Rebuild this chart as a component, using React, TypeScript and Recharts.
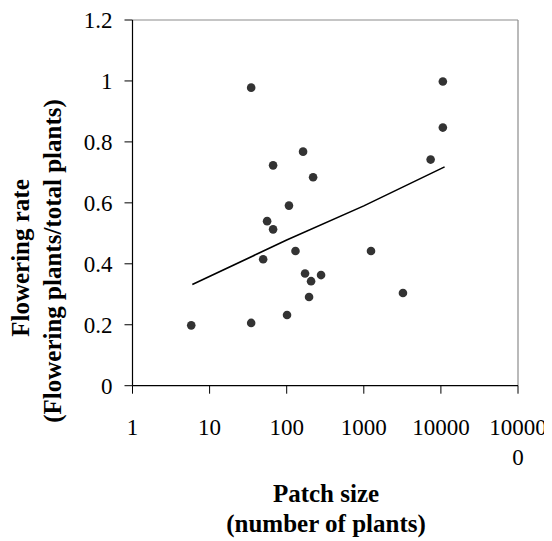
import React from "react";
import {
  ScatterChart,
  Scatter,
  XAxis,
  YAxis,
  ReferenceLine,
} from "recharts";

const patchSize = [
  34.6, 10600, 10600, 7360, 66.6, 163, 220, 107, 55.7, 66.6, 130, 49.5, 173,
  207, 279, 195, 101, 34.6, 5.78, 1240, 3220,
];
const floweringRate = [
  0.978, 0.998, 0.847, 0.742, 0.723, 0.768, 0.684, 0.591, 0.54, 0.513, 0.442,
  0.415, 0.368, 0.343, 0.363, 0.291, 0.232, 0.206, 0.198, 0.442, 0.304,
];

const trendX = [5.97, 100, 1000, 11170];
const trendY = [0.332, 0.478, 0.59, 0.718];

const xTicks = [1, 10, 100, 1000, 10000, 100000];
const yTicks = [0, 0.2, 0.4, 0.6, 0.8, 1, 1.2];

const points = patchSize.map((x, i) => ({ x, y: floweringRate[i] }));
const trend = trendX.map((x, i) => ({ x, y: trendY[i] }));

const FONT = "'Liberation Serif', 'Times New Roman', serif";
const TICK_SIZE = 23;
const TITLE_SIZE = 25;

const XTick = (props: any) => {
  const { x, y, payload } = props;
  const v = payload.value;
  const label = String(v);
  const lines = label.length > 5 ? [label.slice(0, 5), label.slice(5)] : [label];
  return (
    <g>
      {lines.map((l, i) => (
        <text
          key={i}
          x={x}
          y={y + 41 + i * 30}
          textAnchor="middle"
          fill="#000"
          fontFamily={FONT}
          fontSize={TICK_SIZE}
        >
          {l}
        </text>
      ))}
    </g>
  );
};

const XTitle = () => (
  <g>
    <text
      x={318}
      y={494}
      textAnchor="middle"
      fontFamily={FONT}
      fontWeight="bold"
      fontSize={TITLE_SIZE}
      fill="#000"
    >
      Patch size
    </text>
    <text
      x={318}
      y={524}
      textAnchor="middle"
      fontFamily={FONT}
      fontWeight="bold"
      fontSize={TITLE_SIZE}
      fill="#000"
    >
      (number of plants)
    </text>
  </g>
);

const YTitle = () => (
  <g>
    <text
      x={21}
      y={250}
      transform="rotate(-90, 21, 250)"
      textAnchor="middle"
      fontFamily={FONT}
      fontWeight="bold"
      fontSize={TITLE_SIZE}
      fill="#000"
    >
      Flowering rate
    </text>
    <text
      x={53}
      y={253}
      transform="rotate(-90, 53, 253)"
      textAnchor="middle"
      fontFamily={FONT}
      fontWeight="bold"
      fontSize={TITLE_SIZE}
      fill="#000"
    >
      (Flowering plants/total plants)
    </text>
  </g>
);

export default function App() {
  return (
    <div style={{ width: 544, height: 533 }}>
      <ScatterChart
        width={544}
        height={533}
        margin={{ top: 12, right: 34, bottom: 115, left: 0 }}
      >
        <XAxis
          type="number"
          dataKey="x"
          scale="log"
          domain={[1, 100000]}
          ticks={xTicks}
          interval={0}
          allowDataOverflow
          height={40.3}
          tickSize={8}
          tickMargin={0}
          stroke="#000"
          tickLine={{ stroke: "#000" }}
          axisLine={{ stroke: "#000", strokeWidth: 1.2 }}
          tick={<XTick />}
          label={{ content: () => <XTitle /> }}
        />
        <YAxis
          type="number"
          dataKey="y"
          domain={[0, 1.2]}
          ticks={yTicks}
          interval={0}
          width={124.5}
          tickSize={8}
          tickMargin={12}
          stroke="#000"
          axisLine={{ stroke: "#000", strokeWidth: 1.2 }}
          tickLine={{ stroke: "#000" }}
          tick={{ fill: "#000", fontFamily: FONT, fontSize: TICK_SIZE }}
          label={{ content: () => <YTitle /> }}
        />
        <ReferenceLine y={1.2} stroke="#8c8c8c" strokeWidth={1.2} />
        <ReferenceLine x={100000} stroke="#8c8c8c" strokeWidth={1.2} />
        <Scatter
          data={points}
          fill="#333333"
          isAnimationActive={false}
          shape={(p: any) => <circle cx={p.cx} cy={p.cy} r={4.3} fill="#333333" />}
        />
        <Scatter
          data={trend}
          isAnimationActive={false}
          line={{ stroke: "#000", strokeWidth: 1.6 }}
          shape={() => <g />}
        />
      </ScatterChart>
    </div>
  );
}
